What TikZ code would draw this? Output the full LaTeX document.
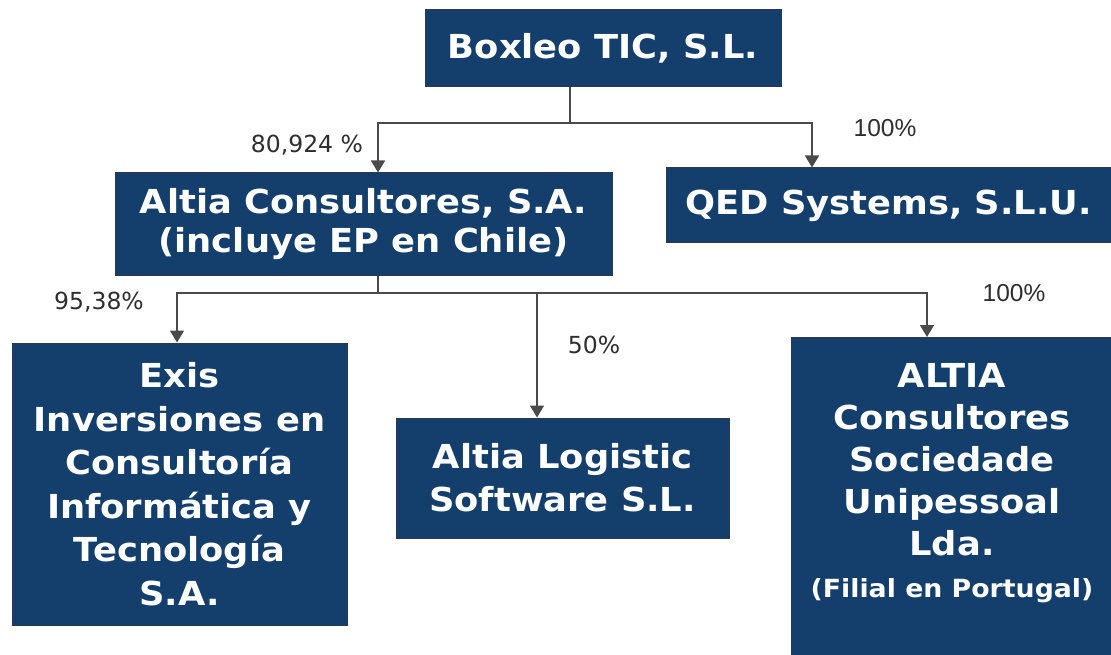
\documentclass[tikz,border=0pt]{standalone}
\usepackage{fontspec}
\usepackage{xcolor}
\usepackage{tikz}
\usetikzlibrary{calc,arrows.meta}
\newfontfamily\boxfont{DejaVu Sans}[FakeStretch=1.07]
\newfontfamily\pctfont{DejaVu Sans}
\newfontfamily\pctfontb{Liberation Sans}
\definecolor{navy}{HTML}{143F6C}
\definecolor{edge}{HTML}{2E3A48}
\definecolor{wire}{HTML}{4A4A4A}
\definecolor{ink}{HTML}{2E2E2E}
\tikzset{
  box/.style={fill=navy, draw=edge, line width=1pt, text=white, align=center, inner sep=0pt,
    font=\boxfont\bfseries\fontsize{33}{42}\selectfont},
  boxtxt/.style={text=white, align=center, inner sep=0pt, font=\boxfont\bfseries\fontsize{33}{42}\selectfont},
  link/.style={draw=wire, line width=1.6pt},
  arr/.style={link, -{Triangle[width=14pt,length=12pt]}},
  pct/.style={text=ink, font=\pctfont\fontsize{23.5}{27}\selectfont},
  pctb/.style={text=ink, font=\pctfontb\fontsize{24.5}{28}\selectfont},
}
\begin{document}
\begin{tikzpicture}[x=1pt, y=-1pt]
  \useasboundingbox (0,0) rectangle (1111,655);
  \fill[white] (0,0) rectangle (1111,655);
  \clip (0,0) rectangle (1111,655);
  \node[box, minimum width=356pt, minimum height=77pt] (boxleo) at (603,48.5) {Boxleo TIC, S.L.};
  \node[box, minimum width=497pt, minimum height=102pt, font=\boxfont\bfseries\fontsize{33}{39}\selectfont]
    (altia) at (363.5,224) {Altia Consultores, S.A.\\(incluye EP en Chile)};
  \node[box, minimum width=445pt, minimum height=75pt] (qed) at (888.5,205.5) {QED Systems, S.L.U.};
  \node[box, minimum width=335pt, minimum height=282pt, font=\boxfont\bfseries\fontsize{33}{43.5}\selectfont]
    (exis) at (179.5,484) {Exis\\Inversiones en\\Consultoría\\Informática y\\Tecnología\\S.A.};
  \node[box, minimum width=333pt, minimum height=120pt, font=\boxfont\bfseries\fontsize{33}{43}\selectfont]
    (logistic) at (562.5,478) {Altia Logistic\\Software S.L.};
  \node[box, anchor=north, minimum width=322pt, minimum height=330pt] (altiapt) at (952,337) {};
  \node[boxtxt, anchor=north] (altiaptlbl) at ($(altiapt.north)+(0,26)$)
    {ALTIA\\Consultores\\Sociedade\\Unipessoal\\Lda.\\{\fontsize{25}{42}\selectfont (Filial en Portugal)}};
  % first level
  \coordinate (j1) at (570,123);
  \coordinate (d1) at (378,123);
  \coordinate (d2) at (812,123);
  \draw[link] (j1 |- boxleo.south) -- (j1);
  \draw[arr] (j1) -| (altia.north -| d1);
  \draw[arr] (j1) -| (qed.north -| d2);
  % second level
  \coordinate (j2) at (378,293);
  \coordinate (e1) at (177,293);
  \coordinate (e2) at (537,293);
  \coordinate (e3) at (927,293);
  \draw[link] (altia.south -| j2) -- (j2);
  \draw[arr] (j2) -| (exis.north -| e1);
  \draw[arr] (j2) -| (logistic.north -| e2);
  \draw[arr] (j2) -| (altiapt.north -| e3);
  \node[pct] (p1) at (307,145) {80,924 \%};
  \node[pctb] (p2) at (885,128) {100\%};
  \node[pct] (p3) at (99,302) {95,38\%};
  \node[pct] (p4) at (594,345) {50\%};
  \node[pctb] (p5) at (1014,293) {100\%};
\end{tikzpicture}
\end{document}
